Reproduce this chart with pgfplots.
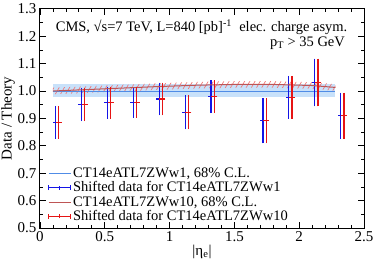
\documentclass[border=0pt]{standalone}
\usepackage{pgfplots}
\pgfplotsset{compat=1.18}
\usepackage{fontspec}
\setmainfont{Liberation Serif}
\usetikzlibrary{patterns.meta}
\definecolor{thblue}{RGB}{80,140,230}
\definecolor{bandblue}{RGB}{200,225,250}
\definecolor{thred}{RGB}{190,85,85}
\definecolor{hatchred}{RGB}{240,120,120}
\definecolor{datblue}{RGB}{20,20,230}
\definecolor{datred}{RGB}{230,20,20}
\begin{document}
\begin{tikzpicture}
\path[use as bounding box] (-40pt,-34pt) rectangle (334pt,228pt);
\begin{axis}[
  scale only axis, width=324pt, height=219.2pt,
  at={(0,0)}, anchor=south west,
  xmin=0, xmax=2.5, ymin=0.5, ymax=1.3,
  xtick={0,0.5,...,2.5}, ytick={0.5,0.6,...,1.3},
  minor x tick num=4, minor y tick num=1,
  tick align=inside, major tick length=6pt, minor tick length=3pt,
  xticklabels={0,0.5,1,1.5,2,2.5},
  yticklabels={0.5,0.6,0.7,0.8,0.9,1.0,1.1,1.2,1.3},
  /pgf/number format/assume math mode=true,
  tick label style={font=\fontsize{15}{17}\selectfont},
  label style={font=\fontsize{15}{17}\selectfont},
  xlabel={|η\textsubscript{e}|},
  ylabel={Data / Theory},
  xlabel style={at={(axis description cs:0.5,0)}, anchor=center, yshift=-24pt},
  ylabel style={at={([xshift=-32pt]axis description cs:0,0.5)}, anchor=center},
  axis line style={line width=1pt},
  every tick/.style={black, line width=0.8pt},
  legend style={at={(0,0)}, anchor=south west, xshift=7pt, yshift=3pt,
    draw=none, fill=none, font=\fontsize{14.5}{16}\selectfont,
    row sep=0pt, inner sep=1pt, nodes={inner sep=1.5pt}},
  legend cell align=left,
  clip=false,
]
% blue theory band
\addplot[draw=none, fill=bandblue, forget plot] coordinates {
 (0.1,1.024) (2.28,1.024) (2.28,0.978) (0.1,0.978)} -- cycle;
% red hatched band
\addplot[draw=none, pattern={Lines[angle=60,distance=4.5pt,line width=0.7pt]}, pattern color=hatchred, forget plot] coordinates {
 (0.1,1.012) (0.3,1.016) (0.6,1.022) (0.9,1.028) (1.2,1.033) (1.5,1.036) (1.8,1.036) (2.1,1.032) (2.28,1.025)
 (2.28,1.001) (2.1,1.008) (1.8,1.012) (1.5,1.012) (1.2,1.009) (0.9,1.004) (0.6,0.998) (0.3,0.992) (0.1,0.988)} -- cycle;
\addplot[thblue, line width=1pt, legend image code/.code={\draw[thblue, line width=1pt] (0pt,0pt) -- (22pt,0pt);}] coordinates {(0.1,1.0) (2.28,1.0)};
\addlegendentry{CT14eATL7ZWw1, 68\% C.L.}
\addplot[datblue, line width=1.2pt, only marks, mark=-, mark size=3pt,
  legend image code/.code={\draw[datblue, line width=1.4pt] (0pt,0pt) -- (22pt,0pt);
    \draw[datblue, line width=1pt] (0pt,-2.5pt) -- (0pt,2.5pt) (22pt,-2.5pt) -- (22pt,2.5pt) (11pt,-2pt) -- (11pt,2pt);},
  error bars/.cd, y dir=both, y explicit,
  error bar style={line width=1.2pt, datblue}, error mark options={mark size=3pt, line width=1.2pt, datblue}]
 table[x=x, y=y, y error=e] {
 x y e
 0.120 0.886 0.049
 0.320 0.951 0.050
 0.520 0.957 0.048
 0.720 0.959 0.045
 0.920 0.971 0.049
 1.120 0.922 0.051
 1.320 0.979 0.049
 1.720 0.891 0.071
 1.920 0.977 0.067
 2.120 1.031 0.076
 2.320 0.910 0.073
 };
\addlegendentry{Shifted data for CT14eATL7ZWw1}
\addplot[thred, line width=1pt, legend image code/.code={\draw[thred, line width=1pt] (0pt,0pt) -- (22pt,0pt);}] coordinates {
 (0.1,1.0) (0.3,1.004) (0.6,1.010) (0.9,1.016) (1.2,1.021) (1.5,1.024) (1.8,1.024) (2.1,1.020) (2.28,1.013)};
\addlegendentry{CT14eATL7ZWw10, 68\% C.L.}
\addplot[datred, line width=1.2pt, only marks, mark=-, mark size=3pt,
  legend image code/.code={\draw[datred, line width=1.4pt] (0pt,0pt) -- (22pt,0pt);
    \draw[datred, line width=1pt] (0pt,-2.5pt) -- (0pt,2.5pt) (22pt,-2.5pt) -- (22pt,2.5pt) (11pt,-2pt) -- (11pt,2pt);},
  error bars/.cd, y dir=both, y explicit,
  error bar style={line width=1.2pt, datred}, error mark options={mark size=3pt, line width=1.2pt, datred}]
 table[x=x, y=y, y error=e] {
 x y e
 0.145 0.886 0.049
 0.345 0.951 0.050
 0.545 0.957 0.048
 0.745 0.959 0.045
 0.945 0.971 0.049
 1.145 0.922 0.051
 1.345 0.979 0.049
 1.745 0.891 0.071
 1.945 0.977 0.067
 2.145 1.031 0.076
 2.345 0.910 0.073
 };
\addlegendentry{Shifted data for CT14eATL7ZWw10}
\node[anchor=west, font=\fontsize{14.5}{16}\selectfont] at (axis cs:0.095,1.232) {CMS, √s=7 TeV, L=840 [pb]\textsuperscript{-1}\ \ elec. charge asym.};
\node[anchor=east, font=\fontsize{14.5}{16}\selectfont] at (axis cs:2.38,1.175) {p\textsubscript{T} > 35 GeV};
\end{axis}
\end{tikzpicture}
\end{document}
